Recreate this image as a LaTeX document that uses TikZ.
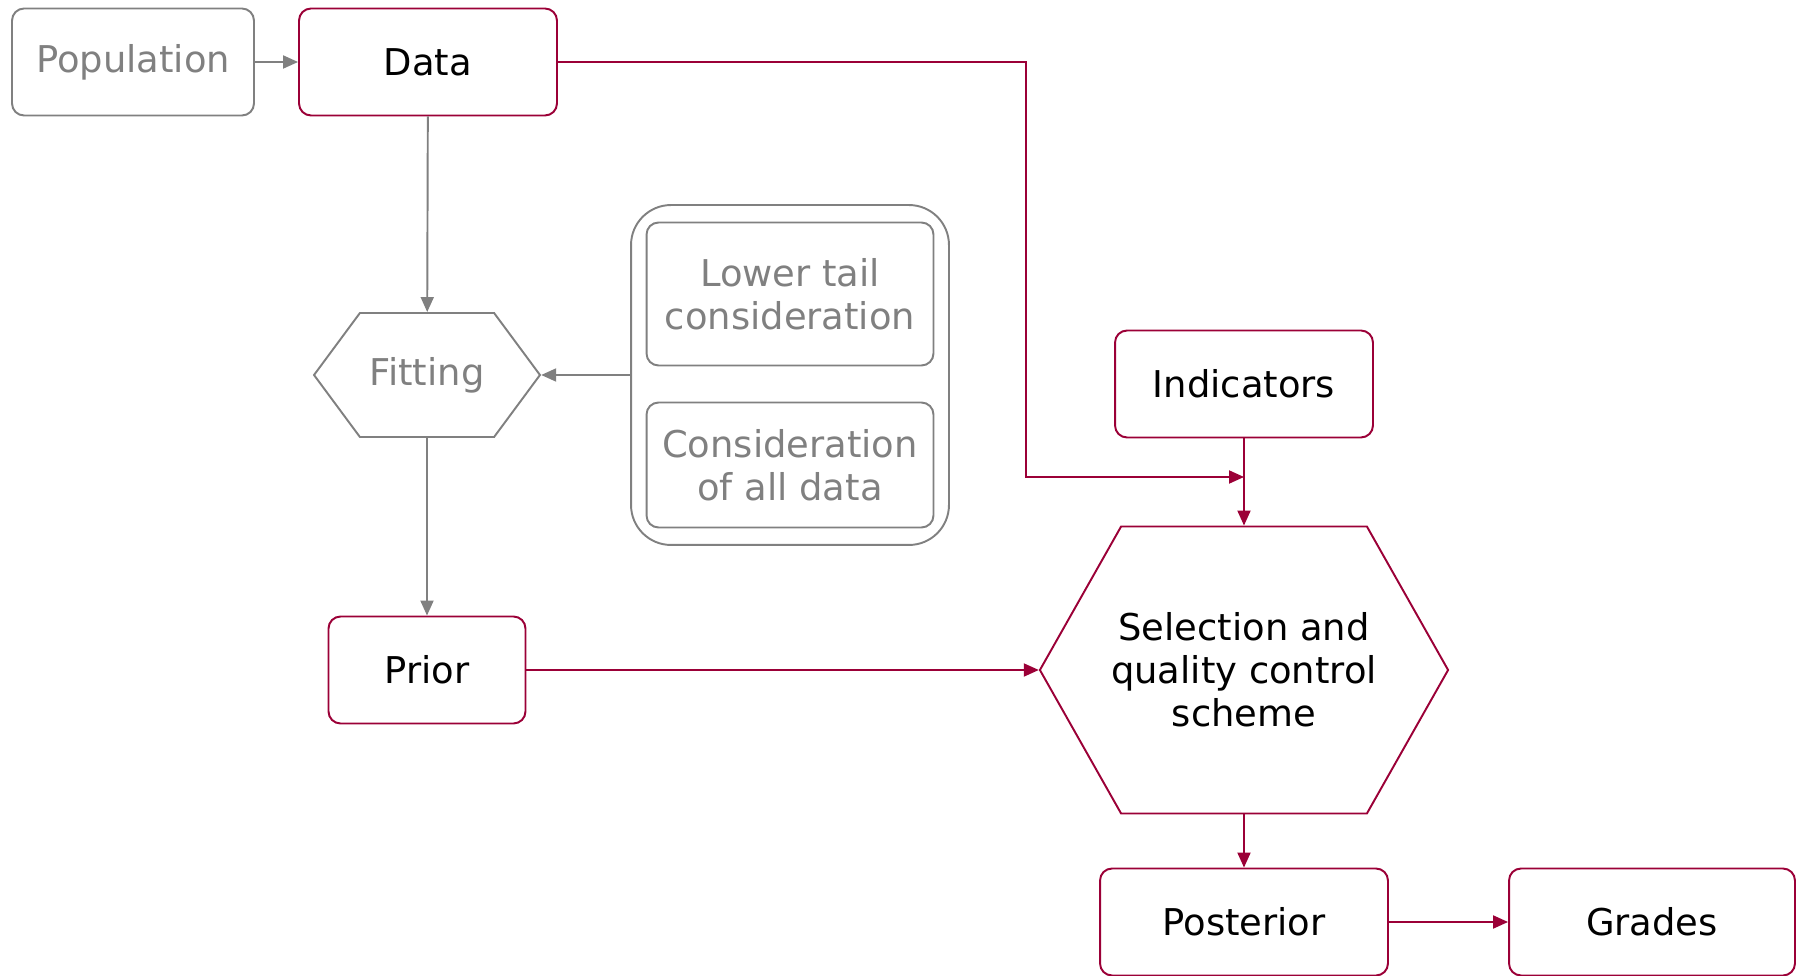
\documentclass[tikz,border=0pt]{standalone}
\usepackage{fontspec}
\setmainfont{DejaVu Sans}
\usetikzlibrary{arrows.meta,shapes.symbols}
\definecolor{wine}{RGB}{155,0,55}
\definecolor{ash}{RGB}{128,128,128}

\begin{document}
\begin{tikzpicture}[x=0.02cm, y=-0.02cm,
    every node/.style={font=\fontsize{21}{24.5}\selectfont, align=center, inner sep=0pt},
    box/.style={draw=wine, line width=1.1pt, rounded corners=0.24cm, text=black},
    greybox/.style={draw=ash, line width=1.1pt, rounded corners=0.24cm, text=ash},
    hexa/.style={shape=signal, signal to=east and west, line width=1.1pt},
    redarrow/.style={draw=wine, line width=1.1pt, -{Triangle[length=0.3cm, width=0.26cm]}},
    greyarrow/.style={draw=ash, line width=1.1pt, -{Triangle[length=0.3cm, width=0.26cm]}}]

    \useasboundingbox (0,0) rectangle (1803,976);

    % Riga in alto
    \node[greybox, minimum width=4.84cm, minimum height=2.14cm] (pop) at (133,62) {Population};
    \node[box, minimum width=5.16cm, minimum height=2.14cm] (data) at (428,62) {Data};

    % Adattamento e le sue varianti
    \node[hexa, draw=ash, text=ash, signal pointer angle=107,
          minimum width=4.52cm, minimum height=2.48cm] (fit) at (427,375) {Fitting};
    \node[greybox, rounded corners=0.8cm, minimum width=6.36cm, minimum height=6.8cm] (grp) at (790,375) {};
    \node[greybox, minimum width=5.74cm, minimum height=2.86cm] (tail) at (790,294) {Lower tail\\ consideration};
    \node[greybox, minimum width=5.74cm, minimum height=2.5cm] (all) at (790,465) {Consideration\\ of all data};

    % Parte destra
    \node[box, minimum width=5.16cm, minimum height=2.14cm] (ind) at (1244,384) {Indicators};
    \node[hexa, draw=wine, text=black, signal pointer angle=121, inner xsep=-0.2cm,
          minimum height=5.74cm] (sel) at (1244,670) {Selection and\\ quality control\\ scheme};
    \node[box, minimum width=3.94cm, minimum height=2.14cm] (prior) at (427,670) {Prior};
    \node[box, minimum width=5.76cm, minimum height=2.14cm] (post) at (1244,922) {Posterior};
    \node[box, minimum width=5.72cm, minimum height=2.14cm] (grades) at (1652,922) {Grades};

    % Punti di appoggio per il percorso dei dati
    \coordinate (bend) at (1026,477);
    \coordinate (join) at (ind.south |- bend);

    % Frecce grigie
    \draw[greyarrow] (pop) -- (data);
    \draw[greyarrow] (data) -- (fit);
    \draw[greyarrow] (grp.west) -- (fit.east);
    \draw[greyarrow] (fit) -- (prior);

    % Frecce rosse
    \draw[redarrow] (data.east) -| (bend) -- (join);
    \draw[redarrow] (ind) -- (sel.north);
    \draw[redarrow] (prior.east) -- (sel.west);
    \draw[redarrow] (sel.south) -- (post);
    \draw[redarrow] (post) -- (grades);

\end{tikzpicture}
\end{document}
